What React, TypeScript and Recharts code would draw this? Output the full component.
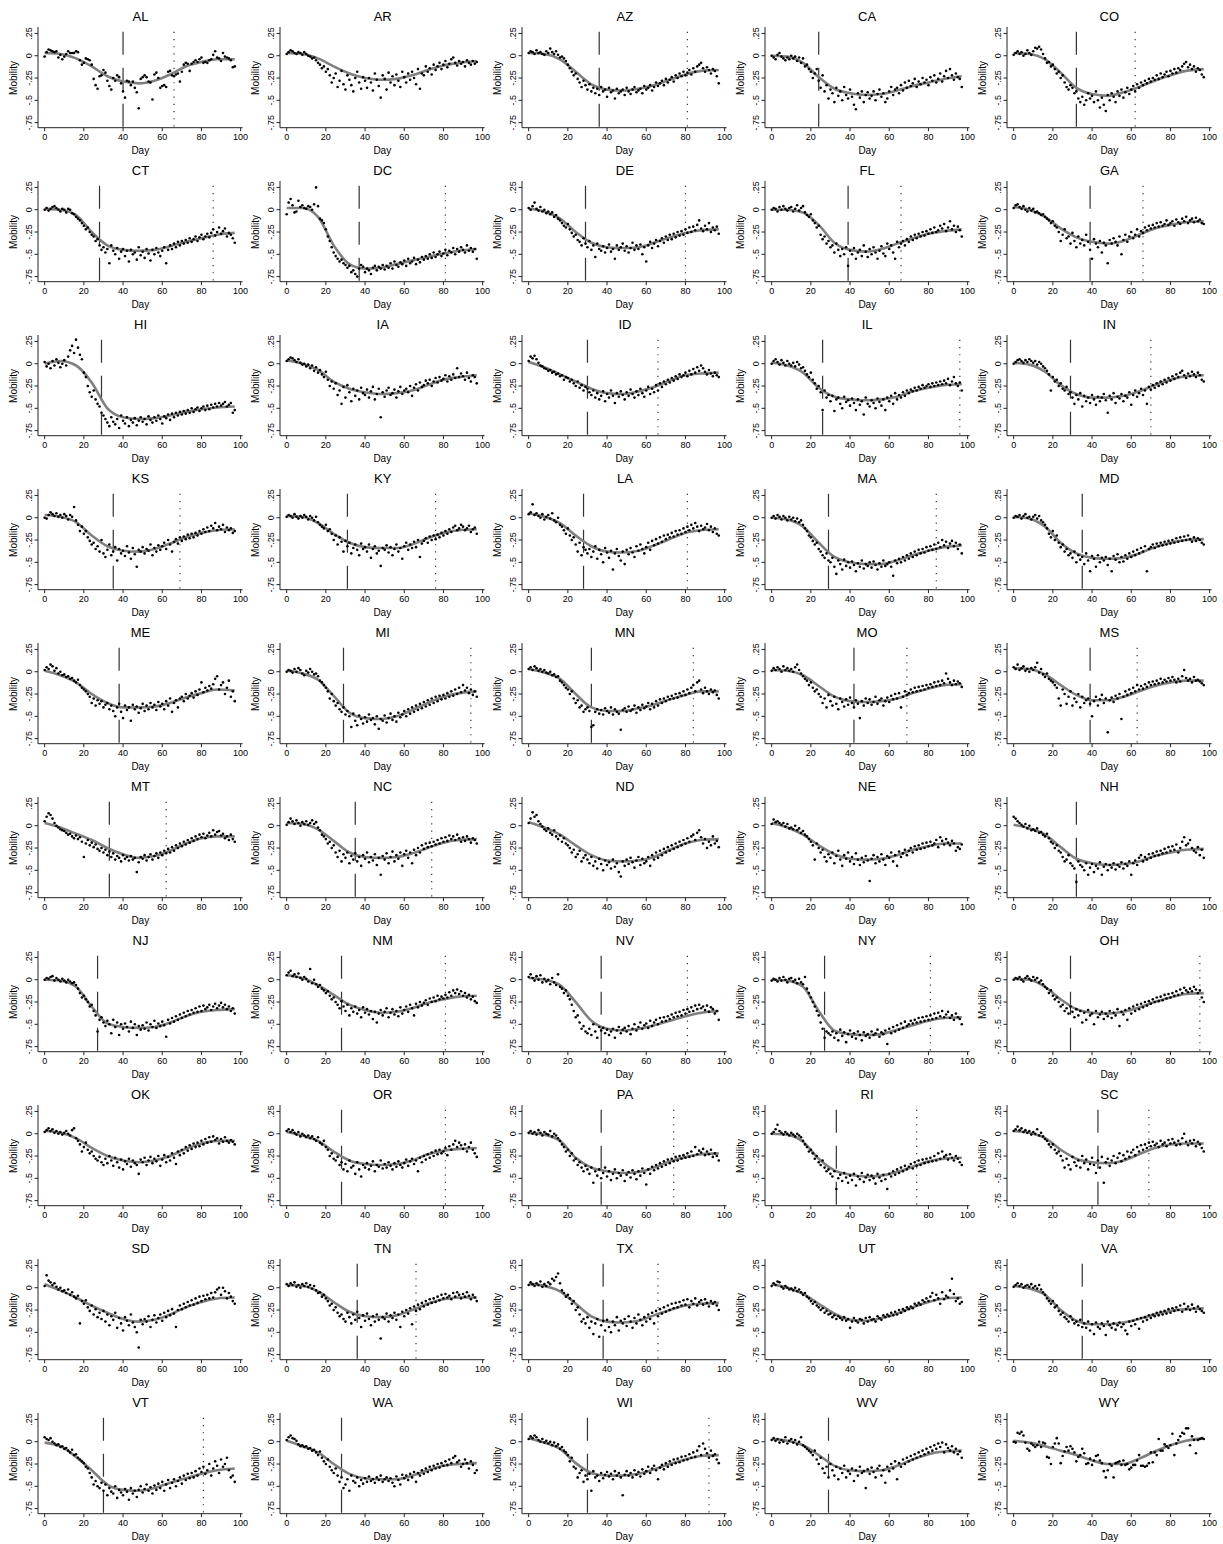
import React from 'react';
import { ComposedChart, Scatter, Line, XAxis, YAxis, ReferenceLine } from 'recharts';

// mobility values in percent, one per day (0..97)
const AL = [-1,4,7,6,5,4,5,-2,1,-4, -1,2,5,3,3,3,5,4,-5,-10, -8,-3,-4,-5,-10,-26,-33,-37,-23,-22, -16,-19,-28,-34,-38,-25,-28,-22,-24,-31, -40,-47,-28,-29,-33,-29,-36,-41,-59,-26, -24,-22,-24,-29,-30,-49,-21,-19,-25,-36, -34,-33,-35,-18,-17,-22,-23,-21,-20,-29, -18,-10,-8,-9,-17,-9,-7,-5,-7,-4, -2,-8,-7,-8,-5,-4,1,5,-2,-3, -6,3,-1,-2,-3,-5,-13,-12];
const AR = [2,4,6,5,3,2,4,3,1,4, 2,0,-1,-3,-2,-5,-8,-10,-14,-12, -18,-15,-22,-30,-25,-20,-35,-28,-17,-32, -38,-22,-27,-33,-40,-25,-18,-30,-37,-24, -28,-36,-25,-30,-39,-20,-27,-34,-47,-22, -26,-38,-19,-30,-23,-33,-21,-28,-35,-18, -24,-30,-20,-27,-18,-25,-32,-15,-37,-20, -22,-12,-18,-14,-21,-10,-16,-12,-8,-15, -10,-6,-13,-9,-4,-2,-8,-11,-6,-9, -7,-12,-5,-8,-10,-6,-9,-7];
const AZ = [3,5,4,2,6,3,4,2,1,5, 3,8,4,2,5,1,-2,-1,-3,-6, -10,-14,-18,-22,-20,-26,-30,-35,-28,-33, -38,-32,-40,-36,-42,-37,-44,-35,-40,-38, -46,-36,-41,-39,-48,-37,-42,-40,-38,-44, -36,-40,-43,-38,-35,-41,-39,-37,-42,-34, -38,-36,-33,-39,-35,-30,-34,-31,-28,-33, -26,-30,-27,-24,-29,-22,-25,-20,-23,-18, -22,-19,-16,-21,-14,-18,-12,-10,-8,-14, -18,-13,-16,-20,-15,-17,-23,-31];
const CA = [0,-2,-4,1,3,-1,-3,-5,-2,-4, 0,-3,-1,-6,-2,-8,-3,-12,-10,-15, -18,-25,-20,-15,-28,-36,-22,-40,-33,-48, -38,-42,-52,-36,-45,-40,-50,-35,-44,-48, -38,-46,-55,-60,-42,-47,-40,-52,-44,-41, -48,-45,-40,-50,-43,-38,-46,-42,-52,-48, -40,-35,-44,-38,-36,-42,-33,-39,-30,-36, -28,-34,-31,-26,-35,-29,-32,-25,-30,-27, -33,-24,-28,-22,-30,-26,-20,-29,-23,-17, -25,-15,-22,-27,-20,-24,-26,-35];
const CO = [1,3,5,2,4,0,2,6,3,1, 5,9,8,10,7,2,-3,-8,-7,-12, -10,-15,-20,-18,-25,-22,-30,-35,-38,-33, -36,-42,-40,-48,-52,-46,-55,-50,-42,-48, -45,-52,-40,-50,-58,-47,-55,-62,-44,-50, -42,-46,-52,-40,-45,-38,-47,-41,-36,-43, -38,-34,-40,-32,-36,-30,-33,-28,-31,-26, -29,-25,-27,-22,-26,-20,-24,-21,-18,-23, -17,-20,-15,-19,-14,-16,-12,-9,-7,-13, -10,-15,-12,-18,-14,-16,-21,-24];
const CT = [0,2,-1,1,3,4,2,0,-2,1, 0,-3,1,0,-4,-5,-8,-10,-12,-15, -18,-22,-20,-25,-28,-30,-35,-33,-40,-45, -42,-48,-44,-60,-40,-46,-50,-43,-55,-47, -44,-52,-46,-58,-45,-50,-48,-56,-42,-51, -47,-54,-44,-49,-57,-45,-50,-43,-48,-52, -46,-42,-60,-45,-40,-44,-38,-42,-36,-40, -35,-38,-34,-37,-32,-36,-33,-30,-35,-31, -28,-33,-30,-27,-31,-26,-22,-29,-25,-20, -27,-24,-21,-30,-26,-28,-32,-37];
const DC = [-5,8,12,5,-3,-2,10,3,5,2, 1,4,3,0,6,25,4,-10,-12,-15, -22,-30,-35,-42,-48,-52,-55,-58,-56,-60, -62,-65,-63,-70,-68,-72,-75,-66,-62,-64, -70,-66,-68,-72,-65,-63,-68,-64,-66,-62, -67,-63,-65,-60,-66,-58,-62,-64,-59,-61, -57,-63,-55,-60,-58,-54,-61,-56,-59,-53, -56,-52,-55,-50,-54,-48,-53,-50,-47,-52, -49,-45,-51,-46,-48,-43,-50,-44,-47,-42, -45,-48,-40,-46,-43,-47,-44,-55];
const DE = [2,0,4,8,1,-1,3,-2,0,-4, -2,-5,-3,-8,-6,-10,-12,-15,-18,-20, -16,-22,-26,-30,-28,-34,-36,-40,-32,-38, -42,-35,-45,-40,-53,-38,-44,-46,-41,-48, -43,-39,-47,-44,-55,-40,-45,-42,-38,-46, -41,-48,-43,-37,-45,-40,-44,-39,-50,-42, -58,-40,-36,-43,-38,-34,-41,-35,-32,-37, -30,-34,-28,-33,-27,-31,-25,-29,-24,-28, -22,-26,-20,-25,-19,-23,-17,-12,-21,-24, -18,-22,-15,-25,-20,-23,-19,-27];
const FL = [0,2,1,-2,3,0,4,1,-1,2, 3,-2,1,5,-1,2,4,-3,-6,-8, -5,-12,-15,-20,-18,-28,-33,-30,-38,-35, -42,-40,-48,-38,-45,-52,-44,-50,-42,-63, -46,-50,-43,-55,-48,-45,-52,-40,-47,-53, -44,-50,-42,-48,-55,-46,-41,-49,-52,-38, -44,-40,-48,-55,-36,-42,-38,-35,-40,-33, -36,-30,-34,-28,-32,-27,-30,-25,-29,-24, -27,-22,-26,-20,-25,-23,-18,-21,-16,-24, -20,-13,-22,-18,-25,-19,-23,-30];
const GA = [2,5,6,3,1,4,0,-2,2,-1, 1,-3,-2,-4,-6,-5,-8,-10,-12,-15, -13,-18,-20,-25,-35,-28,-22,-32,-30,-38, -26,-35,-42,-30,-38,-34,-40,-28,-36,-45, -55,-33,-38,-42,-35,-48,-37,-40,-60,-34, -38,-32,-36,-40,-30,-50,-34,-28,-36,-30, -25,-32,-28,-22,-30,-24,-26,-20,-23,-18, -21,-17,-20,-15,-19,-14,-18,-16,-12,-17, -15,-13,-18,-11,-14,-16,-10,-13,-8,-15, -12,-10,-14,-9,-13,-11,-15,-16];
const HI = [2,-3,0,-5,3,-2,5,1,-4,0, 4,-2,8,15,20,12,27,18,10,5, -10,-15,-25,-32,-37,-30,-40,-45,-48,-55, -58,-62,-66,-70,-60,-65,-68,-62,-72,-58, -64,-67,-60,-70,-63,-66,-61,-69,-64,-60, -65,-62,-68,-59,-63,-66,-60,-64,-58,-62, -67,-59,-61,-57,-63,-56,-60,-55,-58,-54, -57,-53,-56,-52,-55,-50,-54,-51,-49,-53, -50,-48,-52,-47,-51,-46,-49,-45,-48,-44, -47,-45,-43,-48,-46,-44,-55,-52];
const IA = [3,5,7,6,4,2,5,1,-1,0, -3,-1,-5,-2,-8,-4,-10,-7,-12,-15, -9,-18,-25,-20,-28,-22,-35,-30,-45,-26, -38,-24,-32,-42,-28,-36,-30,-40,-27,-33, -35,-29,-38,-31,-26,-40,-34,-28,-60,-32, -37,-30,-27,-35,-33,-29,-38,-31,-26,-34, -30,-28,-32,-25,-36,-27,-23,-30,-21,-26, -24,-19,-22,-18,-25,-20,-16,-21,-15,-19, -17,-13,-20,-14,-18,-12,-16,-5,-15,-11, -14,-18,-10,-16,-20,-13,-15,-22];
const ID = [3,8,6,9,5,1,-2,-3,-5,-6, -8,-7,-10,-9,-12,-11,-14,-13,-18,-15, -16,-20,-18,-22,-25,-20,-27,-24,-30,-26, -28,-32,-35,-30,-38,-33,-40,-36,-31,-42, -34,-38,-30,-36,-44,-33,-37,-31,-35,-40, -32,-36,-29,-34,-38,-31,-35,-28,-33,-37, -30,-26,-34,-28,-32,-24,-30,-22,-26,-20, -23,-18,-21,-16,-19,-14,-17,-12,-15,-13, -10,-14,-8,-12,-6,-10,-4,-8,-2,-5, -9,-12,-7,-11,-14,-10,-13,-15];
const IL = [0,3,5,2,-1,4,1,-2,3,0, -2,1,-3,2,-1,-5,-4,-8,-12,-15, -10,-18,-22,-28,-25,-32,-52,-30,-38,-35, -42,-36,-53,-40,-38,-45,-50,-37,-43,-41, -47,-39,-44,-52,-40,-46,-42,-57,-38,-45, -48,-41,-44,-50,-39,-43,-47,-40,-52,-38, -42,-36,-45,-33,-40,-35,-38,-32,-36,-30, -33,-29,-31,-27,-30,-26,-28,-24,-27,-25, -23,-26,-22,-25,-21,-24,-20,-23,-19,-22, -17,-24,-20,-15,-22,-25,-21,-30];
const IN = [0,2,4,5,3,1,4,2,5,3, 1,3,-1,2,0,-3,-5,-8,-12,-30, -15,-20,-18,-25,-22,-28,-30,-26,-34,-32, -38,-45,-35,-40,-33,-48,-36,-42,-38,-44, -35,-40,-46,-37,-42,-38,-34,-41,-55,-36, -40,-33,-44,-37,-39,-34,-42,-36,-38,-32, -46,-35,-30,-37,-33,-28,-35,-30,-45,-26, -29,-24,-27,-22,-25,-20,-23,-18,-21,-16, -19,-14,-17,-12,-15,-10,-8,-13,-16,-11, -14,-9,-12,-15,-10,-13,-18,-20];
const KS = [0,-1,3,6,4,2,5,1,3,0, 4,2,-2,3,1,12,-3,-8,-15,-10, -18,-15,-22,-26,-30,-28,-35,-32,-38,-25, -40,-44,-36,-30,-42,-38,-33,-48,-35,-40, -37,-43,-32,-39,-46,-34,-41,-55,-36,-38, -33,-40,-35,-37,-30,-42,-34,-38,-31,-36, -32,-28,-35,-25,-30,-38,-27,-24,-29,-22, -26,-21,-24,-19,-23,-18,-22,-17,-20,-15, -18,-13,-16,-11,-15,-9,-12,-6,-14,-10, -13,-8,-16,-11,-14,-12,-17,-15];
const KY = [1,3,2,0,4,1,-1,2,0,3, 1,-2,2,0,-3,1,-5,-8,-10,-12, -8,-15,-13,-18,-25,-20,-30,-22,-27,-38, -26,-32,-28,-40,-34,-30,-36,-42,-29,-35, -33,-38,-30,-45,-35,-32,-40,-37,-54,-34, -36,-31,-39,-33,-42,-35,-30,-38,-34,-46, -32,-28,-36,-30,-34,-27,-33,-25,-44,-29, -26,-23,-28,-21,-25,-20,-24,-19,-22,-17, -20,-15,-18,-13,-16,-11,-9,-14,-12,-8, -10,-14,-12,-9,-16,-13,-11,-18];
const LA = [4,6,15,3,5,2,0,4,-2,1, 3,-1,5,-3,-5,0,-8,-10,-14,-18, -12,-20,-25,-22,-30,-38,-28,-42,-33,-36, -40,-35,-44,-38,-32,-46,-36,-41,-50,-34, -39,-45,-37,-58,-40,-35,-43,-48,-38,-52, -36,-41,-34,-39,-44,-32,-37,-30,-35,-40, -33,-28,-36,-26,-31,-24,-29,-22,-27,-20, -24,-19,-22,-17,-21,-15,-19,-14,-18,-12, -16,-10,-14,-8,-12,-6,-10,-15,-9,-13, -11,-7,-14,-10,-16,-12,-18,-20];
const MA = [0,2,-1,3,1,-2,2,0,-3,1, -2,0,-4,-1,-5,-3,-8,-12,-15,-20, -22,-26,-30,-28,-35,-38,-42,-45,-40,-48, -50,-45,-55,-63,-48,-52,-58,-47,-54,-50, -56,-49,-53,-60,-51,-55,-48,-57,-52,-54, -50,-56,-49,-53,-58,-51,-55,-48,-54,-52, -50,-55,-65,-48,-51,-46,-50,-44,-48,-42, -46,-40,-44,-38,-42,-36,-40,-35,-39,-33, -37,-32,-36,-30,-35,-28,-33,-25,-31,-27, -34,-29,-26,-32,-28,-35,-30,-40];
const MD = [0,2,1,3,-1,2,4,0,1,-2, 1,3,-1,2,-3,-5,-8,-12,-18,-22, -15,-25,-20,-28,-33,-30,-38,-35,-42,-40, -45,-38,-50,-42,-47,-44,-52,-40,-48,-60, -43,-46,-55,-42,-50,-45,-48,-44,-53,-46, -60,-43,-47,-41,-50,-44,-49,-42,-46,-40, -44,-38,-42,-36,-40,-34,-38,-32,-60,-35, -33,-30,-34,-29,-32,-28,-31,-27,-30,-26, -29,-25,-28,-23,-27,-22,-26,-21,-25,-20, -24,-27,-22,-26,-23,-25,-28,-30];
const ME = [2,5,3,8,6,1,4,-2,0,-4, -3,-6,-5,-8,-7,-10,-12,-9,-15,-18, -20,-22,-25,-28,-35,-30,-38,-32,-36,-33, -40,-37,-35,-42,-38,-44,-50,-40,-36,-45, -52,-38,-43,-40,-55,-37,-42,-39,-46,-41, -36,-44,-38,-42,-35,-40,-37,-43,-34,-39, -36,-42,-33,-38,-30,-45,-35,-32,-40,-30, -28,-33,-25,-30,-27,-24,-29,-22,-26,-20, -12,-23,-18,-21,-16,-19,-14,-8,-5,-20, -15,-12,-25,-18,-10,-28,-22,-33];
const MI = [0,2,1,-1,3,0,4,2,-2,-4, 1,-1,3,0,-3,-2,-5,-10,-12,-15, -18,-22,-30,-25,-33,-38,-35,-42,-45,-40, -48,-44,-50,-62,-47,-55,-60,-49,-53,-58, -51,-56,-48,-54,-52,-59,-50,-64,-53,-55, -49,-57,-52,-47,-54,-50,-56,-46,-51,-48, -44,-50,-42,-47,-40,-45,-38,-43,-36,-41, -34,-39,-32,-37,-30,-35,-28,-33,-27,-31, -26,-30,-24,-28,-22,-27,-20,-25,-18,-23, -15,-21,-18,-24,-20,-26,-22,-28];
const MN = [3,5,2,6,4,1,3,0,2,-1, -2,0,-4,-3,-6,-5,-10,-12,-15,-18, -20,-25,-22,-30,-35,-32,-40,-38,-45,-42, -40,-44,-62,-60,-45,-42,-47,-43,-48,-41, -44,-46,-40,-48,-42,-45,-47,-65,-43,-41, -45,-39,-44,-42,-38,-46,-40,-43,-37,-41, -39,-35,-42,-36,-40,-33,-38,-31,-35,-30, -33,-28,-31,-27,-30,-25,-29,-24,-27,-22, -26,-20,-24,-18,-15,-22,-12,-10,-20,-24, -18,-22,-25,-20,-23,-21,-26,-30];
const MO = [1,4,2,5,3,0,6,2,4,1, 3,0,5,8,2,-2,-5,-8,-10,-15, -12,-18,-22,-20,-25,-28,-35,-30,-40,-26, -33,-38,-28,-36,-42,-30,-34,-39,-31,-37, -29,-35,-40,-32,-36,-52,-33,-38,-30,-35, -31,-37,-34,-28,-36,-32,-30,-38,-33,-29, -34,-27,-31,-25,-30,-24,-40,-28,-22,-26, -24,-20,-23,-18,-22,-17,-21,-16,-20,-15, -18,-14,-17,-12,-16,-11,-15,-10,-13,-2, -8,-12,-15,-10,-14,-11,-13,-17];
const MS = [5,3,8,2,4,6,1,3,0,4, 2,5,10,-1,3,-3,-6,-2,-8,-10, -12,-15,-18,-30,-38,-20,-25,-36,-28,-22, -38,-30,-34,-25,-40,-28,-35,-32,-30,-36, -50,-33,-28,-38,-31,-26,-35,-30,-68,-32, -29,-34,-27,-30,-25,-53,-28,-22,-26,-20, -24,-18,-22,-15,-20,-16,-19,-14,-17,-12, -15,-11,-14,-10,-13,-8,-12,-9,-11,-7, -10,-6,-9,-12,-8,-11,-5,2,-7,-10, -8,-12,-6,-10,-9,-11,-13,-15];
const MT = [5,10,14,12,8,3,0,-2,-4,-5, -6,-8,-10,-9,-12,-14,-11,-15,-13,-18, -35,-20,-16,-22,-19,-24,-21,-26,-28,-25, -30,-27,-33,-29,-35,-31,-38,-34,-36,-40, -33,-37,-35,-39,-34,-38,-36,-52,-41,-35, -37,-33,-39,-35,-32,-38,-34,-31,-36,-30, -33,-28,-31,-26,-30,-24,-28,-22,-25,-20, -23,-18,-21,-16,-19,-14,-17,-12,-15,-10, -13,-9,-14,-11,-8,-12,-5,-10,-7,-6, -11,-9,-14,-12,-16,-10,-15,-18];
const NC = [1,4,8,5,2,6,3,0,4,2, 5,1,3,6,2,4,-2,-5,-10,-12, -15,-20,-18,-25,-22,-30,-35,-28,-40,-32, -36,-30,-42,-34,-38,-31,-40,-35,-45,-33, -37,-30,-41,-35,-39,-32,-44,-36,-55,-34, -38,-31,-42,-35,-29,-40,-33,-37,-30,-45, -32,-28,-36,-30,-42,-27,-33,-25,-30,-22, -26,-20,-24,-19,-23,-18,-21,-16,-20,-14, -18,-13,-17,-11,-15,-12,-16,-10,-14,-18, -13,-17,-12,-15,-19,-14,-16,-20];
const ND = [3,8,15,10,12,5,2,-1,-4,-6, -3,-8,-10,-5,-12,-15,-11,-18,-14,-20, -22,-25,-30,-27,-35,-32,-28,-40,-36,-33, -38,-42,-35,-45,-40,-48,-37,-43,-50,-39, -44,-41,-48,-38,-46,-42,-52,-57,-40,-45, -38,-43,-36,-41,-47,-39,-35,-44,-37,-42, -40,-35,-45,-33,-38,-30,-36,-28,-33,-26, -30,-24,-28,-22,-26,-20,-24,-18,-22,-16, -20,-14,-18,-12,-10,-16,-8,-5,-13,-20, -15,-25,-18,-22,-12,-20,-17,-24];
const NE = [2,7,4,5,3,1,3,-1,2,-3, -2,-4,0,-5,-3,-8,-6,-10,-12,-15, -18,-22,-38,-20,-25,-30,-27,-35,-40,-32, -36,-30,-42,-34,-28,-38,-45,-33,-37,-30, -40,-35,-43,-31,-38,-44,-36,-41,-34,-39, -62,-37,-33,-42,-35,-40,-32,-38,-44,-34, -36,-30,-40,-33,-45,-29,-35,-31,-27,-33, -28,-25,-30,-23,-27,-22,-26,-20,-25,-19, -23,-18,-22,-20,-16,-24,-13,-17,-21,-15, -19,-22,-17,-20,-28,-24,-26,-21];
const NH = [10,8,5,3,1,-1,2,-3,0,-5, -4,-6,-3,-8,-7,-10,-12,-9,-14,-18, -20,-25,-22,-28,-30,-35,-40,-38,-33,-42, -45,-48,-63,-40,-44,-46,-50,-42,-55,-47, -43,-52,-45,-48,-41,-55,-46,-43,-50,-44, -47,-42,-49,-44,-46,-41,-48,-43,-45,-40, -55,-42,-39,-44,-36,-33,-40,-35,-38,-32, -36,-31,-34,-29,-33,-28,-31,-26,-30,-24, -28,-23,-27,-21,-30,-25,-18,-13,-22,-20, -16,-25,-28,-30,-24,-33,-27,-36];
const NJ = [0,2,1,3,4,-1,2,0,-2,1, -1,-3,0,-2,-4,-3,-6,-10,-15,-20, -18,-22,-25,-30,-28,-35,-40,-58,-45,-42, -48,-52,-46,-50,-60,-45,-53,-48,-62,-50, -55,-49,-53,-58,-47,-54,-50,-62,-52,-56, -51,-55,-48,-57,-50,-53,-46,-54,-49,-52, -47,-51,-64,-45,-49,-43,-47,-41,-45,-39, -43,-37,-41,-35,-39,-34,-37,-32,-36,-30, -35,-29,-33,-31,-28,-34,-30,-27,-32,-29, -26,-31,-28,-33,-30,-35,-32,-38];
const NM = [5,8,10,4,6,3,7,2,0,3, 1,-2,12,-4,0,-5,-8,-6,-10,-12, -15,-13,-18,-22,-20,-25,-28,-32,-24,-30, -35,-28,-40,-32,-36,-30,-38,-34,-42,-31, -37,-33,-39,-35,-44,-36,-48,-38,-34,-40, -36,-32,-42,-37,-33,-39,-35,-41,-31,-38, -34,-30,-36,-28,-32,-40,-27,-31,-25,-29, -26,-23,-28,-21,-25,-20,-24,-18,-22,-19, -21,-17,-20,-14,-18,-12,-15,-11,-16,-13, -18,-15,-20,-17,-22,-19,-24,-26];
const NV = [3,6,2,-1,4,0,5,-3,1,-2, 0,-5,2,-3,-6,6,-8,-10,-15,-12, -18,-22,-28,-35,-42,-40,-48,-55,-52,-58, -60,-55,-62,-50,-58,-65,-53,-57,-54,-60, -56,-62,-58,-55,-65,-57,-53,-60,-56,-54, -58,-52,-61,-55,-50,-57,-53,-48,-55,-51, -49,-54,-46,-52,-48,-45,-50,-43,-47,-42, -46,-41,-44,-39,-42,-37,-41,-36,-40,-34, -38,-33,-36,-31,-35,-29,-33,-28,-32,-30, -34,-29,-36,-31,-33,-38,-35,-45];
const NY = [-1,1,0,-2,2,-1,3,0,-3,1, 2,-2,0,-4,1,-3,-5,3,-10,-15, -20,-25,-30,-35,-40,-48,-55,-65,-58,-60, -62,-58,-65,-60,-68,-56,-63,-59,-70,-61, -57,-64,-60,-66,-58,-62,-68,-59,-63,-61, -65,-58,-62,-60,-56,-64,-59,-61,-57,-72, -55,-60,-53,-58,-51,-56,-49,-54,-47,-52, -50,-46,-49,-45,-48,-43,-47,-42,-46,-41, -45,-40,-44,-38,-43,-37,-41,-35,-42,-39, -36,-43,-40,-45,-38,-42,-44,-50];
const OH = [0,2,1,3,0,-2,2,4,1,-1, 3,0,2,-3,-1,-5,-8,-10,-15,-12, -18,-22,-20,-25,-30,-28,-35,-32,-38,-30, -36,-42,-33,-40,-35,-48,-37,-45,-34,-40, -38,-50,-35,-42,-39,-36,-44,-38,-41,-35, -43,-37,-40,-33,-52,-36,-39,-34,-45,-32, -38,-30,-35,-28,-33,-27,-31,-25,-29,-24, -27,-22,-25,-20,-24,-19,-23,-17,-21,-16, -20,-15,-18,-13,-17,-11,-15,-9,-12,-14, -10,-13,-8,-11,-15,-12,-20,-25];
const OK = [2,4,6,3,5,1,3,0,2,-1, 1,3,0,-2,4,6,-5,-8,-12,-20, -15,-10,-18,-22,-20,-25,-28,-30,-26,-32, -35,-28,-33,-25,-30,-36,-27,-32,-38,-29, -40,-31,-34,-28,-37,-30,-33,-35,-45,-29, -32,-27,-35,-30,-26,-33,-28,-31,-25,-36, -29,-24,-32,-26,-30,-22,-27,-34,-20,-24, -18,-22,-15,-19,-13,-17,-11,-15,-10,-14, -8,-12,-6,-10,-4,-9,-3,-7,-5,-11, -6,-9,-4,-8,-10,-7,-9,-12];
const OR = [3,5,2,4,1,-1,2,-3,0,-2, -4,-2,-5,-3,-6,-8,-4,-10,-12,-8, -15,-18,-25,-22,-28,-30,-26,-35,-32,-40, -34,-42,-30,-38,-36,-45,-32,-40,-48,-35, -38,-33,-40,-36,-31,-42,-35,-37,-30,-39, -34,-38,-32,-36,-40,-33,-37,-31,-35,-38, -33,-29,-36,-31,-28,-34,-30,-42,-27,-32, -25,-29,-23,-27,-21,-25,-19,-23,-18,-22, -20,-16,-24,-14,-18,-12,-8,-15,-10,-13, -17,-12,-20,-15,-10,-18,-22,-26];
const PA = [1,3,0,2,-1,4,1,-2,2,0, -1,3,-3,0,-2,-5,-8,-12,-15,-20, -18,-25,-22,-30,-28,-35,-32,-38,-42,-36, -40,-45,-38,-55,-42,-47,-40,-50,-44,-38, -48,-42,-52,-45,-40,-50,-44,-47,-41,-53, -46,-43,-49,-41,-45,-51,-42,-47,-39,-44, -57,-40,-45,-37,-41,-35,-39,-33,-37,-31, -35,-29,-33,-28,-31,-26,-30,-25,-28,-24, -27,-22,-26,-20,-25,-15,-23,-19,-21,-17, -24,-20,-23,-18,-26,-22,-25,-30];
const RI = [0,2,5,10,3,1,-1,2,0,-2, 1,-1,-3,0,-2,-4,-8,-12,-15,-20, -18,-22,-28,-25,-32,-35,-30,-38,-42,-40, -45,-48,-42,-62,-50,-46,-53,-44,-49,-55, -47,-52,-45,-58,-48,-51,-44,-54,-49,-46, -52,-47,-50,-56,-45,-49,-53,-46,-51,-62, -45,-48,-42,-46,-40,-44,-38,-42,-36,-40, -37,-34,-39,-32,-36,-30,-35,-29,-33,-28, -32,-27,-31,-25,-30,-22,-28,-20,-26,-24, -29,-23,-27,-30,-25,-28,-32,-35];
const SC = [3,5,8,4,6,2,4,1,3,-1, 2,0,5,-2,1,-3,-6,-8,-12,-15, -12,-18,-22,-20,-25,-30,-38,-28,-35,-40, -26,-32,-36,-30,-38,-25,-33,-29,-40,-34, -27,-35,-44,-30,-38,-26,-55,-32,-28,-36, -30,-25,-33,-27,-22,-31,-24,-28,-20,-26, -21,-18,-24,-15,-20,-13,-18,-12,-16,-10, -14,-9,-13,-11,-15,-8,-12,-10,-14,-7, -11,-6,-10,-13,-8,-12,-5,0,-9,-13, -8,-11,-7,-14,-9,-12,-16,-20];
const SD = [2,14,8,6,3,5,1,-2,0,-4, -3,-6,-2,-8,-5,-10,-12,-9,-40,-15, -18,-14,-22,-26,-20,-30,-24,-33,-28,-35, -26,-38,-30,-42,-32,-36,-28,-45,-34,-40, -48,-33,-37,-42,-30,-39,-44,-50,-67,-36, -41,-35,-38,-32,-44,-36,-31,-39,-34,-30, -37,-28,-33,-26,-31,-24,-29,-44,-25,-20, -24,-18,-22,-16,-20,-14,-19,-12,-17,-10, -15,-9,-13,-8,-12,-6,-11,-5,-2,0, -8,0,-4,-12,-6,-10,-15,-18];
const TN = [4,2,5,3,6,1,3,0,4,2, 5,1,3,-1,2,-3,-6,-5,-10,-8, -12,-15,-20,-18,-25,-22,-28,-32,-30,-35, -38,-28,-33,-40,-30,-36,-27,-34,-44,-31, -37,-29,-35,-42,-32,-38,-30,-36,-57,-33, -35,-29,-38,-31,-34,-28,-36,-30,-44,-27, -32,-25,-29,-23,-41,-21,-26,-19,-24,-17, -21,-15,-19,-13,-17,-12,-16,-10,-14,-8, -12,-7,-11,-9,-13,-6,-10,-5,-8,-12, -7,-10,-5,-9,-13,-8,-11,-15];
const TX = [3,6,4,2,5,3,7,1,4,2, 6,4,10,8,12,16,5,-3,-6,-10, -8,-12,-18,-15,-25,-22,-30,-38,-35,-40, -33,-45,-38,-52,-40,-35,-55,-42,-37,-48, -36,-44,-50,-38,-42,-33,-48,-37,-40,-35, -43,-32,-38,-45,-34,-40,-30,-36,-42,-33, -38,-30,-35,-28,-40,-26,-32,-24,-29,-22, -27,-20,-25,-18,-23,-17,-22,-16,-20,-14, -19,-13,-22,-15,-18,-12,-20,-16,-14,-19, -13,-17,-21,-15,-18,-16,-20,-25];
const UT = [2,5,3,7,6,1,-1,2,0,-2, -1,-3,0,-4,-2,-5,-8,-6,-10,-12, -15,-18,-16,-20,-22,-25,-23,-28,-26,-30, -29,-33,-31,-35,-32,-34,-36,-33,-37,-35, -45,-38,-34,-37,-39,-35,-36,-40,-34,-38, -33,-36,-35,-38,-32,-34,-36,-31,-33,-30, -32,-28,-31,-27,-30,-25,-28,-24,-26,-22, -24,-21,-23,-18,-20,-17,-19,-14,-16,-12, -15,-10,-6,-14,-8,-12,-18,-5,-13,-9, -11,-3,10,-7,-15,-12,-18,-16];
const VA = [1,3,5,2,4,0,2,3,1,4, 0,2,-1,3,-2,-5,-8,-12,-15,-18, -15,-22,-20,-26,-30,-28,-33,-35,-38,-32, -36,-40,-38,-42,-36,-44,-40,-45,-38,-48, -41,-52,-39,-44,-46,-40,-43,-53,-38,-42, -45,-40,-47,-42,-39,-44,-41,-48,-52,-38, -43,-37,-41,-35,-46,-34,-38,-33,-36,-31, -34,-30,-32,-28,-31,-27,-30,-26,-29,-24, -28,-23,-26,-22,-25,-20,-27,-18,-24,-21, -25,-19,-23,-27,-21,-24,-26,-28];
const VT = [5,3,2,4,0,-2,-4,-3,-6,-5, -8,-7,-10,-12,-9,-15,-14,-18,-20,-22, -24,-28,-30,-35,-40,-48,-44,-50,-52,-46, -55,-48,-60,-52,-56,-58,-50,-63,-54,-57, -60,-53,-56,-65,-52,-58,-55,-62,-54,-50, -57,-53,-48,-55,-51,-58,-49,-54,-47,-52, -45,-55,-48,-43,-52,-46,-42,-50,-44,-40, -47,-38,-43,-36,-41,-35,-40,-33,-38,-30, -34,-28,-36,-32,-25,-38,-30,-22,-27,-35, -20,-28,-25,-18,-32,-40,-38,-45];
const WA = [2,5,7,4,3,1,-3,-5,-4,-6, -5,-8,-7,-10,-9,-12,-15,-11,-18,-22, -25,-20,-28,-32,-35,-30,-38,-45,-40,-52, -48,-42,-55,-38,-44,-46,-40,-50,-43,-47, -41,-45,-39,-44,-42,-46,-40,-43,-38,-45, -42,-40,-44,-41,-46,-50,-39,-43,-48,-37, -41,-38,-43,-36,-40,-34,-45,-35,-38,-32, -36,-30,-34,-28,-32,-27,-30,-25,-29,-24, -27,-22,-26,-20,-24,-18,-16,-23,-21,-28, -25,-20,-24,-30,-22,-26,-35,-32];
const WI = [3,6,4,7,5,2,0,3,-1,1, -2,0,-4,-1,-5,-3,-8,-6,-10,-12, -15,-22,-18,-28,-30,-40,-35,-32,-45,-38, -42,-36,-55,-33,-40,-38,-44,-35,-41,-37, -34,-39,-36,-42,-33,-38,-35,-40,-60,-37, -33,-38,-35,-40,-32,-37,-34,-39,-31,-36, -33,-28,-35,-30,-27,-32,-42,-29,-26,-31, -24,-28,-22,-26,-20,-24,-19,-23,-17,-21, -16,-20,-14,-18,-12,-17,-10,-5,-15,-2, -8,-13,-18,-10,-16,-14,-20,-24];
const WV = [2,4,1,3,-1,2,0,5,-2,1, 3,-1,2,-3,0,5,-4,-6,-8,-10, -12,-15,-10,-20,-25,-18,-30,-35,-28,-40, -25,-32,-38,-28,-42,-30,-35,-27,-40,-33, -36,-30,-44,-32,-38,-28,-35,-33,-52,-31, -36,-29,-34,-40,-30,-27,-38,-32,-46,-28, -33,-25,-30,-22,-42,-24,-28,-20,-25,-18, -22,-16,-20,-14,-18,-12,-16,-10,-14,-8, -12,-6,-10,-4,-8,-2,-6,-1,-12,-3, -7,-10,-5,-12,-8,-14,-11,-18];
const WY = [0,-1,10,9,11,7,-1,-8,-10,-2, -4,-6,-4,0,-6,-1,-2,-17,-18,-25, -6,-2,4,-2,-24,-16,-11,-6,-10,-5, -8,-12,-22,-17,-15,-8,-13,-25,-24,-19, -26,-21,-16,-15,-21,-24,-33,-40,-32,-25, -27,-40,-24,-23,-22,-26,-21,-26,-25,-31, -29,-26,-26,-21,-15,-27,-27,-28,-27,-24, -12,-23,-12,-15,3,-10,-10,-3,-5,-7, -4,9,-15,-2,2,6,10,9,15,15, -4,6,2,-13,2,3,4,3];

// smoothed fit, percent, at CURVE_DAYS
const CURVE_DAYS = [0, 8, 16, 24, 32, 40, 48, 56, 64, 72, 80, 88, 97];
const AL_FIT = [3, 2, -3, -12, -23, -29, -31, -28, -21, -12, -7, -4, -4];
const AR_FIT = [3, 2, -3, -12, -20, -25, -27, -26, -22, -16, -11, -8, -6];
const AZ_FIT = [3, 2, -4, -18, -32, -38, -39, -37, -33, -27, -21, -17, -16];
const CA_FIT = [0, -1, -8, -24, -37, -42, -44, -43, -39, -34, -30, -26, -23];
const CO_FIT = [3, 2, -4, -19, -36, -43, -45, -41, -35, -28, -22, -17, -15];
const CT_FIT = [1, 0, -6, -25, -40, -45, -46, -45, -41, -36, -32, -28, -26];
const DC_FIT = [2, 2, -8, -40, -61, -66, -65, -61, -57, -53, -49, -46, -44];
const DE_FIT = [1, -2, -10, -25, -37, -42, -43, -42, -37, -31, -26, -23, -22];
const FL_FIT = [0, 0, -3, -17, -37, -45, -47, -44, -38, -32, -27, -24, -22];
const GA_FIT = [3, 0, -8, -21, -31, -36, -38, -35, -28, -21, -17, -14, -13];
const HI_FIT = [0, 3, -2, -21, -50, -60, -62, -61, -58, -54, -51, -49, -48];
const IA_FIT = [4, 0, -7, -20, -28, -32, -34, -33, -30, -24, -18, -15, -13];
const ID_FIT = [2, -4, -12, -20, -28, -33, -34, -31, -26, -19, -13, -11, -10];
const IL_FIT = [1, -2, -10, -27, -37, -40, -41, -40, -37, -31, -27, -24, -23];
const IN_FIT = [1, -1, -9, -24, -34, -38, -38, -36, -31, -24, -18, -14, -13];
const KS_FIT = [3, 1, -5, -20, -32, -37, -38, -35, -29, -22, -17, -14, -13];
const KY_FIT = [2, 1, -6, -18, -28, -33, -34, -34, -30, -23, -17, -14, -13];
const LA_FIT = [5, 1, -6, -20, -32, -38, -39, -37, -31, -24, -17, -14, -13];
const MA_FIT = [0, -2, -10, -28, -44, -50, -52, -52, -48, -42, -37, -33, -31];
const MD_FIT = [1, -1, -10, -28, -40, -45, -46, -45, -40, -33, -28, -25, -24];
const ME_FIT = [1, -4, -12, -25, -35, -40, -40, -39, -35, -29, -24, -20, -21];
const MI_FIT = [1, -2, -9, -27, -46, -52, -53, -50, -43, -35, -28, -24, -22];
const MN_FIT = [3, -1, -8, -25, -40, -44, -44, -41, -37, -31, -26, -22, -22];
const MO_FIT = [2, 1, -4, -16, -28, -33, -34, -33, -30, -24, -19, -15, -14];
const MS_FIT = [4, 3, -3, -15, -26, -32, -32, -28, -22, -16, -12, -10, -10];
const MT_FIT = [3, -2, -9, -16, -25, -32, -36, -34, -28, -20, -14, -12, -12];
const NC_FIT = [3, 2, -4, -17, -30, -35, -36, -35, -31, -25, -19, -16, -15];
const ND_FIT = [4, -2, -10, -22, -33, -39, -40, -39, -35, -27, -20, -16, -15];
const NE_FIT = [3, -2, -10, -22, -32, -37, -38, -37, -33, -27, -23, -20, -20];
const NH_FIT = [1, -3, -10, -24, -37, -42, -44, -43, -40, -34, -30, -27, -26];
const NJ_FIT = [0, -1, -8, -30, -49, -53, -54, -53, -48, -41, -36, -34, -33];
const NM_FIT = [5, 2, -6, -17, -28, -34, -37, -36, -32, -26, -22, -19, -18];
const NV_FIT = [2, 0, -6, -25, -46, -55, -57, -55, -51, -46, -41, -37, -35];
const NY_FIT = [0, -1, -8, -35, -57, -61, -62, -61, -56, -51, -46, -43, -42];
const OH_FIT = [1, 0, -8, -22, -33, -37, -38, -36, -31, -25, -20, -16, -15];
const OK_FIT = [3, 1, -5, -16, -25, -30, -32, -30, -25, -17, -11, -8, -8];
const OR_FIT = [2, -2, -8, -20, -30, -34, -35, -34, -30, -23, -19, -17, -16];
const PA_FIT = [1, -1, -8, -27, -38, -42, -44, -43, -38, -31, -26, -23, -22];
const RI_FIT = [0, -1, -9, -28, -41, -46, -48, -47, -43, -37, -31, -28, -27];
const SC_FIT = [3, 1, -5, -18, -28, -32, -33, -30, -23, -16, -12, -11, -11];
const SD_FIT = [4, -3, -11, -20, -28, -35, -38, -36, -30, -22, -16, -12, -11];
const TN_FIT = [3, 2, -4, -16, -27, -32, -33, -31, -25, -18, -13, -11, -11];
const TX_FIT = [4, 2, -4, -18, -32, -38, -39, -37, -31, -25, -20, -18, -17];
const UT_FIT = [4, 0, -7, -18, -29, -36, -37, -34, -29, -22, -16, -12, -11];
const VA_FIT = [2, -1, -8, -25, -37, -41, -41, -39, -35, -30, -26, -24, -23];
const VT_FIT = [-1, -5, -17, -32, -48, -54, -55, -52, -46, -41, -36, -32, -30];
const WA_FIT = [1, -5, -12, -25, -36, -41, -42, -42, -38, -32, -27, -25, -24];
const WI_FIT = [4, -1, -8, -24, -35, -38, -38, -36, -31, -25, -20, -16, -15];
const WV_FIT = [3, 1, -4, -15, -27, -32, -33, -32, -27, -20, -14, -11, -10];
const WY_FIT = [1, -1, -5, -10, -15, -21, -25, -25, -19, -11, -4, 1, 4];

const STATES = ['AL','AR','AZ','CA','CO','CT','DC','DE','FL','GA','HI','IA','ID','IL','IN','KS','KY','LA','MA','MD','ME','MI','MN','MO','MS','MT','NC','ND','NE','NH','NJ','NM','NV','NY','OH','OK','OR','PA','RI','SC','SD','TN','TX','UT','VA','VT','WA','WI','WV','WY'];
const DOTS = [AL,AR,AZ,CA,CO,CT,DC,DE,FL,GA,HI,IA,ID,IL,IN,KS,KY,LA,MA,MD,ME,MI,MN,MO,MS,MT,NC,ND,NE,NH,NJ,NM,NV,NY,OH,OK,OR,PA,RI,SC,SD,TN,TX,UT,VA,VT,WA,WI,WV,WY];
const FITS = [AL_FIT,AR_FIT,AZ_FIT,CA_FIT,CO_FIT,CT_FIT,DC_FIT,DE_FIT,FL_FIT,GA_FIT,HI_FIT,IA_FIT,ID_FIT,IL_FIT,IN_FIT,KS_FIT,KY_FIT,LA_FIT,MA_FIT,MD_FIT,ME_FIT,MI_FIT,MN_FIT,MO_FIT,MS_FIT,MT_FIT,NC_FIT,ND_FIT,NE_FIT,NH_FIT,NJ_FIT,NM_FIT,NV_FIT,NY_FIT,OH_FIT,OK_FIT,OR_FIT,PA_FIT,RI_FIT,SC_FIT,SD_FIT,TN_FIT,TX_FIT,UT_FIT,VA_FIT,VT_FIT,WA_FIT,WI_FIT,WV_FIT,WY_FIT];
// day of the policy (dashed line) and of the reopening (dotted line); null = none
const POLICY_DAYS = [40,null,36,24,32, 28,37,29,39,39, 29,null,30,26,29, 35,31,28,29,35, 38,29,32,42,39, 33,35,null,null,32, 27,28,37,27,29, null,28,37,33,43, null,36,38,null,35, 30,28,30,29,null];
const END_DAYS = [66,null,81,null,62, 86,81,80,66,66, null,null,66,96,70, 69,76,81,84,null, null,94,84,69,63, 62,74,null,null,null, null,81,81,81,95, null,81,74,74,69, null,66,66,null,null, 81,null,92,null,null];

const Y_TICKS = [-0.75, -0.5, -0.25, 0, 0.25];
const X_TICKS = [0, 20, 40, 60, 80, 100];

const FONT = '"Liberation Sans", Arial, sans-serif';
const COL_W = 242.2;
const ROW_H = 154;
const W = 254;
const H = 162;

const fmtY = (v: number) => (v === 0 ? '0' : String(v).replace('0.', '.'));

const YTick = (props: any) => {
  const { y, payload } = props;
  return (
    <text x={29.5} y={y} transform={`rotate(-90 29.5 ${y})`} textAnchor="middle" dominantBaseline="central" fontSize={9} fontFamily={FONT} fill="#000">
      {fmtY(payload.value)}
    </text>
  );
};

const XTick = (props: any) => {
  const { x, payload } = props;
  return (
    <text x={x} y={137} textAnchor="middle" dominantBaseline="central" fontSize={9} fontFamily={FONT} fill="#000">
      {payload.value}
    </text>
  );
};

const Panel = ({ i }: { i: number }) => {
  const row = Math.floor(i / 5);
  const col = i % 5;
  const dots = DOTS[i].map((v, d) => ({ day: d, v: v / 100 }));
  const fit = FITS[i].map((v, k) => ({ day: CURVE_DAYS[k], v: v / 100 }));
  const policy = POLICY_DAYS[i];
  const end = END_DAYS[i];

  return (
    <div style={{ position: 'absolute', left: col * COL_W, top: row * ROW_H, width: W, height: H }}>
      <div style={{ position: 'absolute', left: 38, top: 9, width: 205, textAlign: 'center', fontSize: 13, lineHeight: '15px', fontFamily: FONT }}>
        {STATES[i]}
      </div>
      <ComposedChart width={W} height={H} margin={{ top: 27, right: 11.4, bottom: 8, left: 0 }}>
        <XAxis
          type="number"
          dataKey="day"
          domain={[-3.4, 101]}
          ticks={X_TICKS}
          interval={0}
          height={26.3}
          tickSize={3.5}
          tick={<XTick />}
          axisLine={{ stroke: '#222' }}
          tickLine={{ stroke: '#222' }}
          allowDataOverflow
          label={() => (
            <text x={140.3} y={150} textAnchor="middle" dominantBaseline="central" fontSize={10} fontFamily={FONT} fill="#000">
              Day
            </text>
          )}
        />
        <YAxis
          type="number"
          dataKey="v"
          domain={[-0.807, 0.322]}
          ticks={Y_TICKS}
          interval={0}
          width={38}
          tickSize={3.5}
          tick={<YTick />}
          axisLine={{ stroke: '#222' }}
          tickLine={{ stroke: '#222' }}
          allowDataOverflow
          label={() => (
            <text x={13} y={78} transform="rotate(-90 13 78)" textAnchor="middle" dominantBaseline="central" fontSize={10} fontFamily={FONT} fill="#000">
              Mobility
            </text>
          )}
        />
        {policy != null && (
          <ReferenceLine
            segment={[{ x: policy, y: 0.269 }, { x: policy, y: -0.807 }]}
            stroke="#333"
            strokeWidth={1.2}
            strokeDasharray="23 13"
          />
        )}
        {end != null && (
          <ReferenceLine
            segment={[{ x: end, y: 0.269 }, { x: end, y: -0.807 }]}
            stroke="#333"
            strokeWidth={1.2}
            strokeDasharray="1.2 6"
          />
        )}
        <Scatter
          data={dots}
          dataKey="v"
          isAnimationActive={false}
          shape={(p: any) => <circle cx={p.cx} cy={p.cy} r={1.3} fill="#000" />}
        />
        <Line
          data={fit}
          dataKey="v"
          type="monotone"
          stroke="#808080"
          strokeWidth={2.6}
          dot={false}
          activeDot={false}
          isAnimationActive={false}
        />
      </ComposedChart>
    </div>
  );
};

export default function App() {
  return (
    <div style={{ position: 'absolute', left: 0, top: 0, width: 1223, height: 1544, background: '#fff', fontFamily: FONT }}>
      {STATES.map((s, i) => (
        <Panel key={s} i={i} />
      ))}
    </div>
  );
}
